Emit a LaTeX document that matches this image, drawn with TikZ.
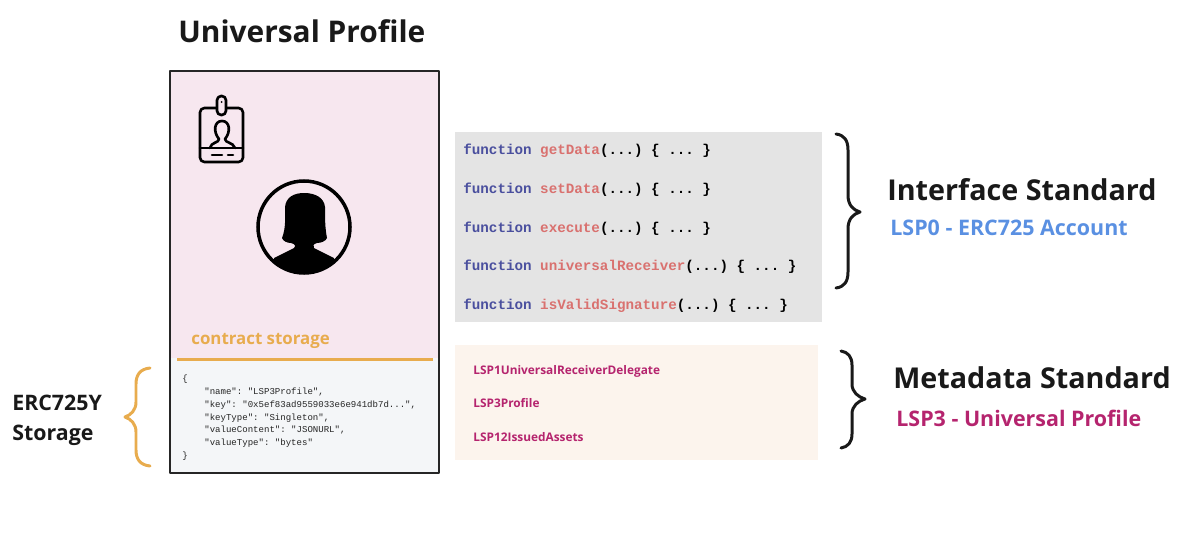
\documentclass[tikz,border=0pt]{standalone}
\usepackage{fontspec}
\setmainfont{Open Sans}
\setmonofont{Liberation Mono}
\usepackage{xcolor}
\definecolor{profilepink}{HTML}{F7E7EF}
\definecolor{storagegray}{HTML}{F4F6F8}
\definecolor{storageorange}{HTML}{E8AC4E}
\definecolor{ifacegray}{HTML}{E4E4E4}
\definecolor{metapeach}{HTML}{FCF4ED}
\definecolor{keywordblue}{HTML}{4A4F9E}
\definecolor{funcred}{HTML}{D9716F}
\definecolor{lspblue}{HTML}{5A90E2}
\definecolor{lspmagenta}{HTML}{B5246E}
\tikzset{
  headtext/.style={anchor=base west,inner sep=0pt,font=\bfseries\fontsize{16.35}{20}\selectfont,text=black!90},
  subtext/.style={anchor=base west,inner sep=0pt,font=\bfseries\fontsize{12.2}{15}\selectfont},
  sidetext/.style={anchor=base west,inner sep=0pt,font=\bfseries\fontsize{12.15}{15}\selectfont,text=black!90},
  functext/.style={anchor=base west,inner sep=0pt,font=\ttfamily\bfseries\fontsize{8.1}{10}\selectfont},
  metatext/.style={anchor=base west,inner sep=0pt,font=\bfseries\fontsize{6.75}{9}\selectfont,text=lspmagenta},
  jsontext/.style={anchor=base west,inner sep=0pt,font=\ttfamily\fontsize{5.15}{6}\selectfont,text=black!85},
}
\newcommand{\funcrow}[1]{\textcolor{keywordblue}{function} \textcolor{funcred}{#1}(...) \{ ... \}}
\begin{document}
\begin{tikzpicture}[x=0.02cm,y=-0.02cm,line cap=round,line join=round]
\useasboundingbox (0,0) rectangle (1200,534);
% profile card
\fill[profilepink] (170,71) rectangle (439,358);
\fill[storagegray] (170,358) rectangle (439,473);
\draw[storageorange,line width=2pt,line cap=butt] (177,359.5) -- (433,359.5);
\draw[black!85,line width=1.5pt,line cap=butt] (170,71) rectangle (439,473);
\node[headtext,font=\bfseries\fontsize{17}{20}\selectfont] (title) at (178,42) {Universal Profile};
\node[anchor=base west,inner sep=0pt,font=\bfseries\fontsize{9.6}{12}\selectfont,text=storageorange] (storagelabel) at (191,344) {contract storage};
% badge icon
\draw[line width=1.5pt,rounded corners=2.5pt] (200,108) rectangle (243,162);
\draw[line width=1.5pt] (200,148) -- (243,148);
\draw[line width=1.5pt,fill=profilepink,rounded corners=2.4pt] (217,96) rectangle (226,115);
\fill (221.5,102) circle (1);
\draw[line width=1.5pt] (212,155) -- (222,155) (228,155) -- (233,155);
\draw[line width=1.5pt] (210,148) .. controls (211,142) and (219,143) .. (219,139) .. controls (213,132) and (214,121) .. (222,121) .. controls (230,121) and (231,132) .. (225,139) .. controls (225,143) and (233,142) .. (235,148);
% avatar
\begin{scope}
\clip (304,227) circle (46);
\fill (282,238) .. controls (286,228) and (285,218) .. (285,207) .. controls (286,197) and (294,193) .. (304,193) .. controls (316,193) and (324,198) .. (325,207) .. controls (325,218) and (325,228) .. (327,238) .. controls (326,241) and (321,243) .. (317,243) .. controls (313,244) and (313,246) .. (314,248) -- (334,258) -- (334,280) -- (274,280) -- (274,258) -- (294,248) .. controls (296,246) and (295,244) .. (291,243) .. controls (287,243) and (283,241) .. (282,238) -- cycle;
\end{scope}
\draw[line width=2pt] (304,227) circle (46);
% storage json
\node[jsontext] (jsonopen) at (182,381) {\{};
\node[jsontext] (jsonname) at (204,394) {"name": "LSP3Profile",};
\node[jsontext] (jsonkey) at (204,407) {"key": "0x5ef83ad9559033e6e941db7d...",};
\node[jsontext] (jsontype) at (204,420) {"keyType": "Singleton",};
\node[jsontext] (jsoncontent) at (204,432) {"valueContent": "JSONURL",};
\node[jsontext] (jsonvalue) at (204,445) {"valueType": "bytes"};
\node[jsontext] (jsonclose) at (182,458) {\}};
\node[sidetext] (erc) at (12,410) {ERC725Y};
\node[sidetext] (ercstorage) at (12,440) {Storage};
\draw[storageorange,line width=1.7pt] (150,368) .. controls (140,369) and (136,375) .. (136,384) -- (136,402) .. controls (136,410) and (131,415) .. (125,417) .. controls (131,419) and (136,424) .. (136,432) -- (136,450) .. controls (136,459) and (140,465) .. (150,466);
% interface functions
\fill[ifacegray] (455,132) rectangle (822,322);
\node[functext] (getdata) at (463,154) {\funcrow{getData}};
\node[functext] (setdata) at (463,193) {\funcrow{setData}};
\node[functext] (execute) at (463,232) {\funcrow{execute}};
\node[functext] (receiver) at (463,270) {\funcrow{universalReceiver}};
\node[functext] (signature) at (463,309) {\funcrow{isValidSignature}};
\draw[black!90,line width=1.7pt] (836,134) .. controls (844,135) and (848,140) .. (848,150) -- (848,195) .. controls (848,205) and (853,210) .. (860,212) .. controls (853,214) and (848,219) .. (848,229) -- (848,272) .. controls (848,282) and (844,287) .. (836,288);
\node[headtext] (iface) at (887,200) {Interface Standard};
\node[subtext,text=lspblue] (lspzero) at (890,235) {LSP0 - ERC725 Account};
% metadata
\fill[metapeach] (455,345) rectangle (818,460);
\node[metatext] (lspone) at (473,374) {LSP1UniversalReceiverDelegate};
\node[metatext] (lspprofile) at (473,407) {LSP3Profile};
\node[metatext] (lsptwelve) at (473,441) {LSP12IssuedAssets};
\draw[black!90,line width=1.7pt] (841,351) .. controls (848,352) and (852,357) .. (852,365) -- (852,384) .. controls (852,392) and (858,397) .. (865,399) .. controls (858,401) and (852,406) .. (852,414) -- (852,434) .. controls (852,442) and (848,447) .. (841,448);
\node[headtext] (meta) at (893,388) {Metadata Standard};
\node[subtext,text=lspmagenta] (lspthree) at (896,426) {LSP3 - Universal Profile};
\end{tikzpicture}
\end{document}
